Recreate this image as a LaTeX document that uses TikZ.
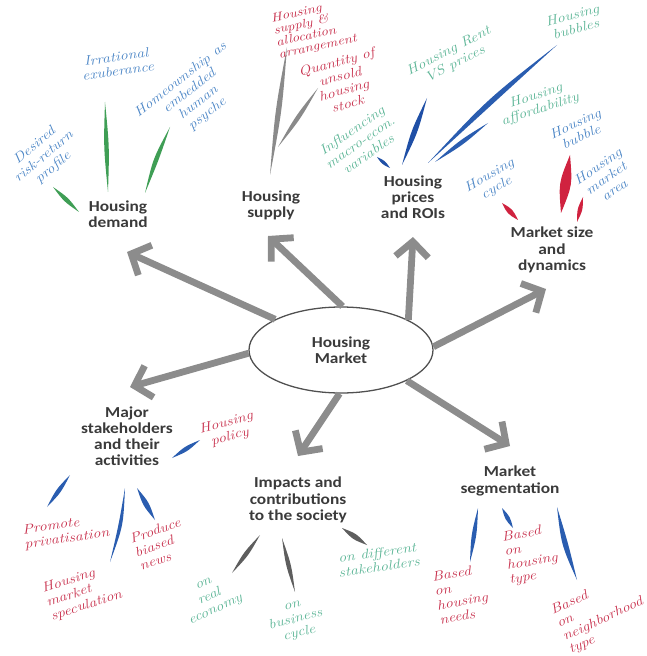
\documentclass[tikz,border=0pt]{standalone}
\usepackage{fontspec}
\setsansfont[FakeStretch=1.14]{Carlito}
\newfontfamily\hand[FakeStretch=1.18]{Latin Modern Roman}
\usetikzlibrary{arrows.meta,shapes.geometric,calc}
\definecolor{labelgray}{HTML}{3A3A3A}
\definecolor{arrowgray}{HTML}{8C8C8C}
\definecolor{ellgray}{HTML}{505050}
\definecolor{handblue}{HTML}{4C86C6}
\definecolor{handred}{HTML}{C8324E}
\definecolor{handgreen}{HTML}{5CB596}
\definecolor{strkgreen}{HTML}{3F9E55}
\definecolor{strkgray}{HTML}{8A8A8A}
\definecolor{strkdark}{HTML}{5E5E5E}
\definecolor{strkdblue}{HTML}{1F4FA6}
\definecolor{strkblue}{HTML}{2A5DB0}
\definecolor{strkred}{HTML}{D0223F}
\newcommand\mstroke[5]{%
  \coordinate (mstrokemid) at ($(#1)!0.5!(#2)$);
  \fill[#5] (#1) .. controls ($(mstrokemid)!#3!90:(#2)$) .. (#2)
    .. controls ($(mstrokemid)!#4!-90:(#2)$) .. (#1);
}
\tikzset{
  mainlbl/.style={font=\sffamily\bfseries\fontsize{13}{13.8}\selectfont, text=labelgray, align=center, inner sep=1pt},
  hw/.style={font=\hand\itshape\fontsize{11.5}{12.3}\selectfont, align=center, inner sep=0pt},
  hwl/.style={hw, align=left},
  hwtight/.style={hw, align=left, font=\hand\itshape\fontsize{10.5}{10.5}\selectfont},
  bigarrow/.style={draw=arrowgray, line width=5.8pt, -{Straight Barb[length=13pt,width=28pt]}},
}
\begin{document}
\begin{tikzpicture}[x=0.03cm,y=-0.03cm]
\useasboundingbox (0,0) rectangle (646,656);
% centre
\node[ellipse, draw=ellgray, line width=1.1pt, minimum width=5.52cm, minimum height=2.58cm, mainlbl] (hm) at (341,350) {Housing\\Market};
% main labels
\node[mainlbl] (demand) at (118,214) {Housing\\demand};
\node[mainlbl] (supply) at (271,205) {Housing\\supply};
\node[mainlbl] (prices) at (413,197) {Housing\\prices\\and ROIs};
\node[mainlbl] (msize) at (552,250) {Market size\\and\\dynamics};
\node[mainlbl] (stake) at (127,436) {Major\\stakeholders\\and their\\activities};
\node[mainlbl] (impacts) at (298,500) {Impacts and\\contributions\\to the society};
\node[mainlbl] (seg) at (510,481) {Market\\segmentation};
% arrow tips
\coordinate (tD) at (127,252);
\coordinate (tS) at (268,236);
\coordinate (tP) at (413,237);
\coordinate (tM) at (546,289);
\coordinate (tK) at (130,387);
\coordinate (tI) at (298,456);
\coordinate (tG) at (510,446);
\draw[bigarrow] (hm.155) -- (tD);
\draw[bigarrow] (hm.88) -- (tS);
\draw[bigarrow] (hm.24) -- (tP);
\draw[bigarrow] (hm.2) -- (tM);
\draw[bigarrow] (hm.182) -- (tK);
\draw[bigarrow] (hm.268) -- (tI);
\draw[bigarrow] (hm.-25) -- (tG);
% ---- Housing demand branches
\coordinate (d1a) at (79,212); \coordinate (d1b) at (53,187);
\mstroke{d1a}{d1b}{2.5pt}{2.5pt}{strkgreen}
\node[hw, text=handblue, rotate=40] (d1) at (44,157) {Desired\\risk-return\\profile};
\coordinate (d2a) at (108,192); \coordinate (d2b) at (105,102);
\mstroke{d2a}{d2b}{2.5pt}{2.5pt}{strkgreen}
\node[hw, text=handblue, rotate=8] (d2) at (117,64) {Irrational\\exuberance};
\coordinate (d3a) at (145,193); \coordinate (d3b) at (170,127);
\mstroke{d3a}{d3b}{4pt}{1pt}{strkgreen}
\node[hw, text=handblue, rotate=38] (d3) at (194,97) {Homeownship as\\embedded\\human\\psyche};
% ---- Housing supply branches
\coordinate (s1a) at (270,175); \coordinate (s1b) at (287,47);
\mstroke{s1a}{s1b}{3pt}{3pt}{strkgray}
\node[hwtight, text=handred, rotate=12] (s1) at (314,29) {Housing\\supply \&\\allocation\\arrangement};
\coordinate (s2a) at (278,147); \coordinate (s2b) at (318,88);
\mstroke{s2a}{s2b}{2.5pt}{2.5pt}{strkgray}
\node[hw, text=handred, rotate=15] (s2) at (342,83) {Quantity of\\unsold\\housing\\stock};
% ---- Housing prices branches
\coordinate (p1a) at (390,168); \coordinate (p1b) at (377,157);
\mstroke{p1a}{p1b}{2pt}{2pt}{strkdblue}
\node[hw, text=handgreen, rotate=35] (p1) at (360,142) {Influencing\\macro-econ.\\variables};
\coordinate (p2a) at (402,165); \coordinate (p2b) at (427,98);
\mstroke{p2a}{p2b}{3pt}{3pt}{strkdblue}
\node[hw, text=handgreen, rotate=27] (p2) at (452,58) {Housing Rent\\VS prices};
\coordinate (p3a) at (428,163); \coordinate (p3b) at (557,45);
\mstroke{p3a}{p3b}{6pt}{0pt}{strkblue}
\node[hw, text=handgreen, rotate=15] (p3) at (574,22) {Housing\\bubbles};
\coordinate (p4a) at (435,162); \coordinate (p4b) at (488,123);
\mstroke{p4a}{p4b}{2.5pt}{2.5pt}{strkblue}
\node[hw, text=handgreen, rotate=18] (p4) at (538,103) {Housing\\affordability};
% ---- Market size branches
\coordinate (m1a) at (518,220); \coordinate (m1b) at (502,203);
\mstroke{m1a}{m1b}{3pt}{3pt}{strkred}
\node[hw, text=handblue, rotate=30] (m1) at (493,182) {Housing\\cycle};
\coordinate (m2a) at (561,213); \coordinate (m2b) at (570,155);
\mstroke{m2a}{m2b}{6pt}{6pt}{strkred}
\node[hw, text=handblue, rotate=25] (m2) at (578,130) {Housing\\bubble};
\coordinate (m3a) at (577,222); \coordinate (m3b) at (583,197);
\mstroke{m3a}{m3b}{2.5pt}{2.5pt}{strkred}
\node[hw, text=handblue, rotate=35] (m3) at (606,178) {Housing\\market\\area};
% ---- Stakeholder branches
\coordinate (k1a) at (172,458); \coordinate (k1b) at (200,440);
\mstroke{k1a}{k1b}{2.5pt}{2.5pt}{strkblue}
\node[hw, text=handred, rotate=15] (k1) at (228,430) {Housing\\policy};
\coordinate (k2a) at (70,475); \coordinate (k2b) at (47,507);
\mstroke{k2a}{k2b}{2.5pt}{2.5pt}{strkblue}
\node[hwl, text=handred, rotate=8] (k2) at (66,532) {Promote\\privatisation};
\coordinate (k3a) at (125,488); \coordinate (k3b) at (110,562);
\mstroke{k3a}{k3b}{5pt}{-1pt}{strkblue}
\node[hwl, text=handred, rotate=18] (k3) at (82,592) {Housing\\market\\speculation};
\coordinate (k4a) at (137,488); \coordinate (k4b) at (155,520);
\mstroke{k4a}{k4b}{3pt}{3pt}{strkblue}
\node[hwl, text=handred, rotate=20] (k4) at (160,544) {Produce\\biased\\news};
% ---- Impacts branches
\coordinate (i1a) at (260,535); \coordinate (i1b) at (232,573);
\mstroke{i1a}{i1b}{2.5pt}{2.5pt}{strkdark}
\node[hw, text=handgreen, rotate=25] (i1) at (210,598) {on\\real\\economy};
\coordinate (i2a) at (282,538); \coordinate (i2b) at (295,592);
\mstroke{i2a}{i2b}{2.5pt}{2.5pt}{strkdark}
\node[hw, text=handgreen, rotate=15] (i2) at (296,621) {on\\business\\cycle};
\coordinate (i3a) at (342,528); \coordinate (i3b) at (367,545);
\mstroke{i3a}{i3b}{3pt}{3pt}{strkdark}
\node[hw, text=handgreen, rotate=8] (i3) at (378,560) {on different\\stakeholders};
% ---- Segmentation branches
\coordinate (g1a) at (478,508); \coordinate (g1b) at (470,562);
\mstroke{g1a}{g1b}{2.5pt}{2.5pt}{strkblue}
\node[hwl, text=handred, rotate=10] (g1) at (461,594) {Based\\on\\housing\\needs};
\coordinate (g2a) at (502,508); \coordinate (g2b) at (513,528);
\mstroke{g2a}{g2b}{2.5pt}{2.5pt}{strkblue}
\node[hwl, text=handred, rotate=10] (g2) at (531,555) {Based\\on\\housing\\type};
\coordinate (g3a) at (557,507); \coordinate (g3b) at (577,580);
\mstroke{g3a}{g3b}{1pt}{5pt}{strkblue}
\node[hwl, text=handred, rotate=25] (g3) at (600,613) {Based\\on\\neighborhood\\type};
\end{tikzpicture}
\end{document}
